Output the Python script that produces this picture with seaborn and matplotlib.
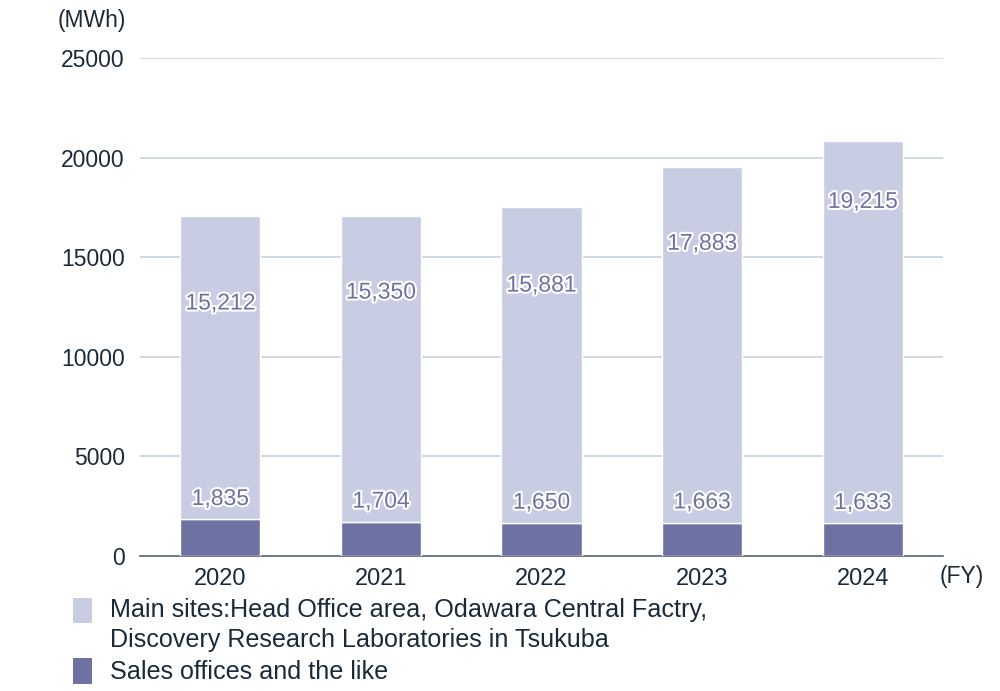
import pandas as pd
import seaborn as sns
import matplotlib.pyplot as plt
import matplotlib.patheffects as pe
from matplotlib.patches import Rectangle

# data
years = ["2020", "2021", "2022", "2023", "2024"]
sales_offices = [1835, 1704, 1650, 1663, 1633]
main_sites = [15212, 15350, 15881, 17883, 19215]

# where the main-site labels sit (data units)
main_label_y = [12700, 13250, 13600, 15700, 17800]

legend_lines = ["Main sites:Head Office area, Odawara Central Factry,",
                "Discovery Research Laboratories in Tsukuba",
                "Sales offices and the like"]

light = "#c9cde3"
dark = "#6e72a3"
txt = "#1b2a38"

df = pd.DataFrame({"year": years, "sales": sales_offices, "main": main_sites})

sns.set_style("white")
plt.rcParams["font.family"] = ["Liberation Sans", "DejaVu Sans"]

fig = plt.figure(figsize=(10, 6.91), dpi=100)
ax = fig.add_axes([0.14, 0.1954, 0.803, 0.7206])

sns.barplot(data=df, x="year", y="sales", color=dark, width=0.5,
            saturation=1, ax=ax, zorder=3)
sns.barplot(data=df, x="year", y="main", color=light, width=0.5,
            saturation=1, bottom=df["sales"], ax=ax, zorder=3)

ax.set_xlim(-0.5, 4.5)
ax.set_ylim(0, 25000)
ax.set_yticks(range(0, 25001, 5000))
ax.yaxis.grid(True, color="#cbd5dd", linewidth=1.3, zorder=0)
ax.set_axisbelow(True)
for s in ["left", "right", "top"]:
    ax.spines[s].set_visible(False)
ax.spines["bottom"].set_color("#5a6670")
ax.spines["bottom"].set_linewidth(1.2)
ax.tick_params(axis="y", length=0, labelsize=16.5, colors=txt, pad=11)
ax.tick_params(axis="x", length=0, labelsize=17, colors=txt, pad=9)
ax.set_xlabel("")
ax.set_ylabel("")

stroke = [pe.withStroke(linewidth=3, foreground="white")]
for i in range(len(years)):
    ax.text(i, sales_offices[i] + 1050, f"{sales_offices[i]:,}", ha="center",
            va="center", fontsize=16.5, color=dark, path_effects=stroke, zorder=5)
    ax.text(i, main_label_y[i], f"{main_sites[i]:,}", ha="center",
            va="center", fontsize=16.5, color=dark, path_effects=stroke, zorder=5)

fig.text(0.058, 0.97, "(MWh)", fontsize=16.5, color=txt, va="center")
fig.text(0.94, 0.165, "(FY)", fontsize=16.5, color=txt, va="center")

# legend drawn by hand so the swatch lines up with the first text line
fig.patches.append(Rectangle((0.073, 0.0984), 0.019, 0.0362, transform=fig.transFigure,
                             facecolor=light, edgecolor="none"))
fig.patches.append(Rectangle((0.073, 0.0101), 0.019, 0.0376, transform=fig.transFigure,
                             facecolor=dark, edgecolor="none"))
for line, y in zip(legend_lines, [0.1172, 0.0738, 0.0275]):
    fig.text(0.110, y, line, fontsize=18.1, color=txt, va="center")

fig.savefig("out.png", dpi=100)
